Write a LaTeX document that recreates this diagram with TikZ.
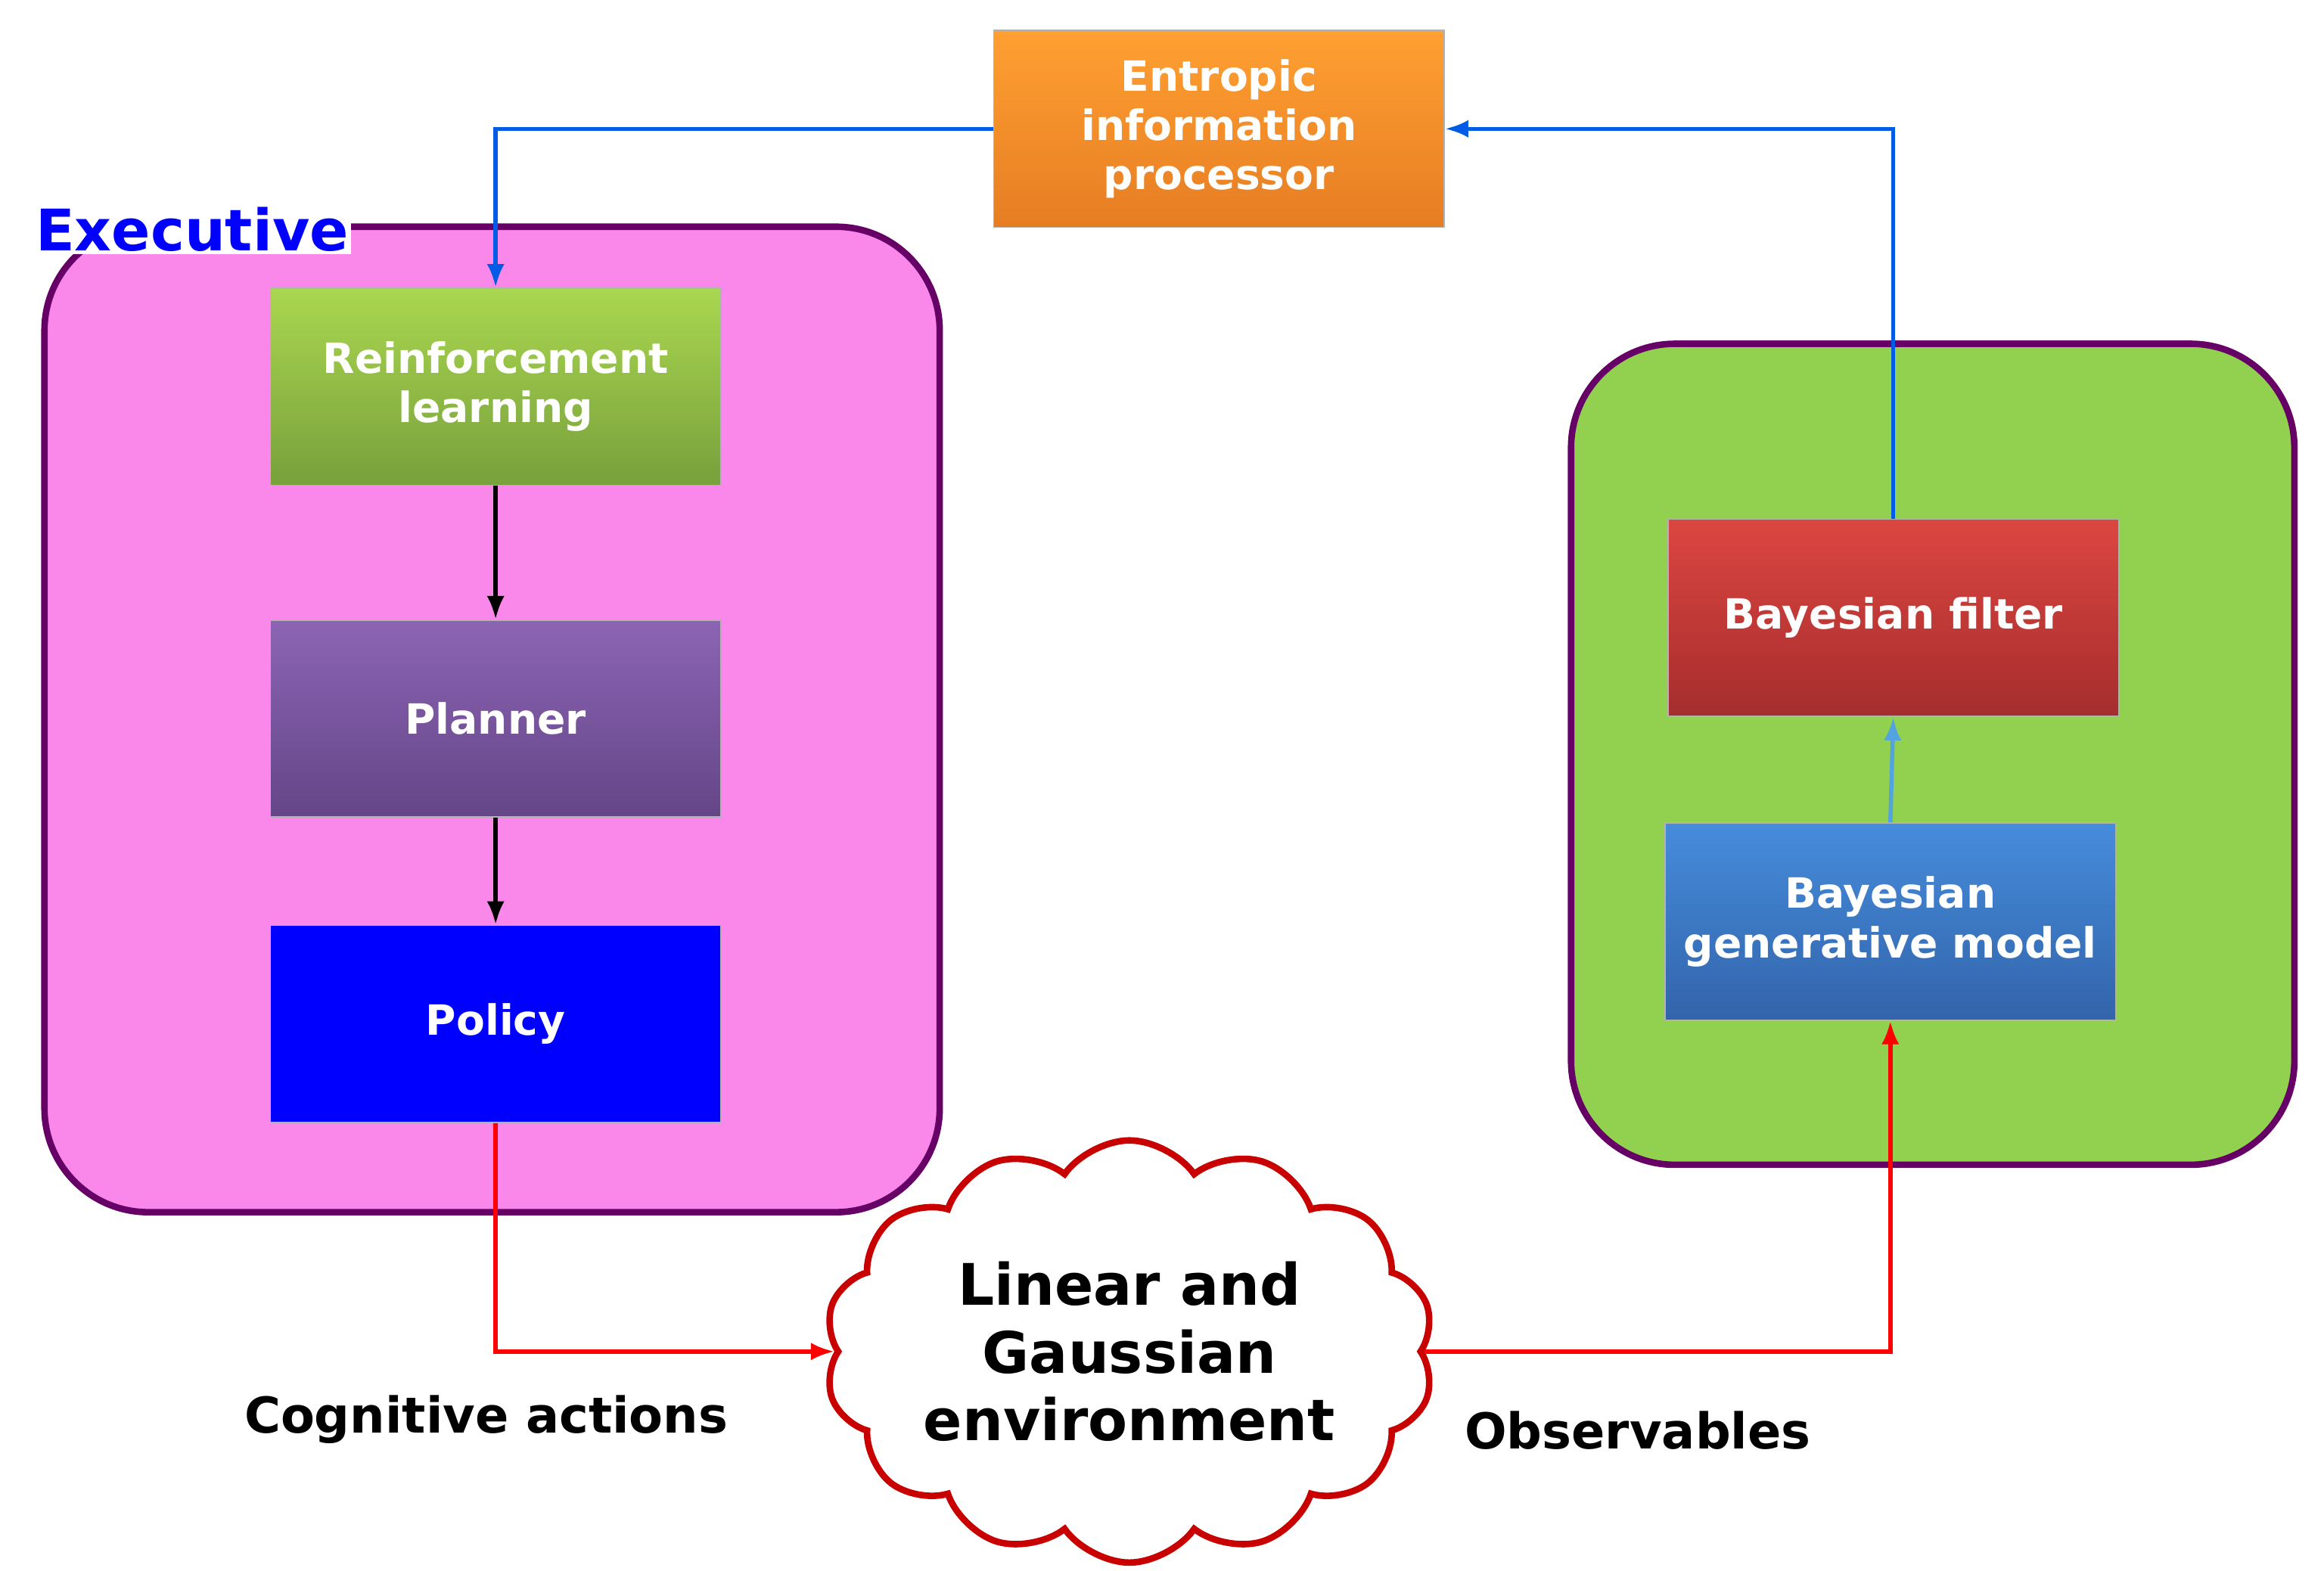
\documentclass[tikz,border=0pt]{standalone}
\usepackage{fontspec}
\setmainfont{DejaVu Sans}
\usetikzlibrary{shapes.symbols,arrows.meta}
\begin{document}
\begin{tikzpicture}[x=0.02cm,y=-0.02cm,
 box/.style={draw=black!30,line width=0.5pt,minimum width=6.08cm,minimum height=2.66cm,anchor=north west,align=center,text=white,font=\bfseries\fontsize{16}{19}\selectfont},
 cont/.style={draw=violet!80!black,line width=2.5pt,rounded corners=1.4cm},
 red/.style={draw=red,line width=1.6pt,-{Latex[length=9pt]}},
 blk/.style={draw=black,line width=1.6pt,-{Latex[length=9pt]}},
 blu/.style={draw=blue!60!cyan!90!black,line width=1.6pt,-{Latex[length=9pt]}},
 lbl/.style={font=\bfseries\fontsize{19}{22}\selectfont}]
\useasboundingbox (0,0) rectangle (1568,1060);
\fill[cont,fill={rgb,255:red,250;green,136;blue,234}] (30,153) rectangle (634,818);
\fill[cont,fill={rgb,255:red,146;green,208;blue,80}] (1060,232) rectangle (1548,786);
\node[anchor=west,fill=white,inner sep=1pt,text=blue,font=\bfseries\fontsize{22}{26}\selectfont] (ex) at (22,155) {Executive};
\node[box,top color={rgb,255:red,255;green,160;blue,50},bottom color={rgb,255:red,230;green,125;blue,35}] (ent) at (670,20) {Entropic\\information\\processor};
\node[box,top color={rgb,255:red,170;green,215;blue,80},bottom color={rgb,255:red,120;green,160;blue,60}] (rl) at (182,194) {Reinforcement\\learning};
\node[box,top color={rgb,255:red,140;green,100;blue,180},bottom color={rgb,255:red,100;green,70;blue,135}] (pl) at (182,418) {Planner};
\node[box,fill={rgb,255:red,0;green,0;blue,255}] (po) at (182,624) {Policy};
\node[box,top color={rgb,255:red,220;green,70;blue,65},bottom color={rgb,255:red,165;green,45;blue,45}] (bf) at (1125,350) {Bayesian filter};
\node[box,top color={rgb,255:red,70;green,140;blue,220},bottom color={rgb,255:red,50;green,100;blue,170}] (bg) at (1123,555) {Bayesian\\generative model};
\node[cloud,cloud puffs=14,cloud puff arc=110,aspect=1.6,draw={rgb,255:red,200;green,0;blue,0},line width=2.5pt,fill=white,minimum width=8.2cm,minimum height=4.6cm,align=center,inner sep=0pt,font=\bfseries\fontsize{22}{26}\selectfont] (cl) at (762,912) {Linear and\\Gaussian\\environment};
\node[lbl] (ca) at (328,958) {Cognitive actions};
\node[lbl] (ob) at (1105,965) {Observables};
\draw[blk] (rl.south) -- (pl.north);
\draw[blk] (pl.south) -- (po.north);
\draw[red] (po.south) |- (cl.west);
\draw[red] (cl.east) -| (bg.south);
\draw[line width=1.6pt,draw=cyan!70!blue!70,-{Latex[length=9pt]}] (bg.north) -- (bf.south);
\draw[blu] (bf.north) |- (ent.east);
\draw[blu] (ent.west) -| (rl.north);
\end{tikzpicture}
\end{document}
